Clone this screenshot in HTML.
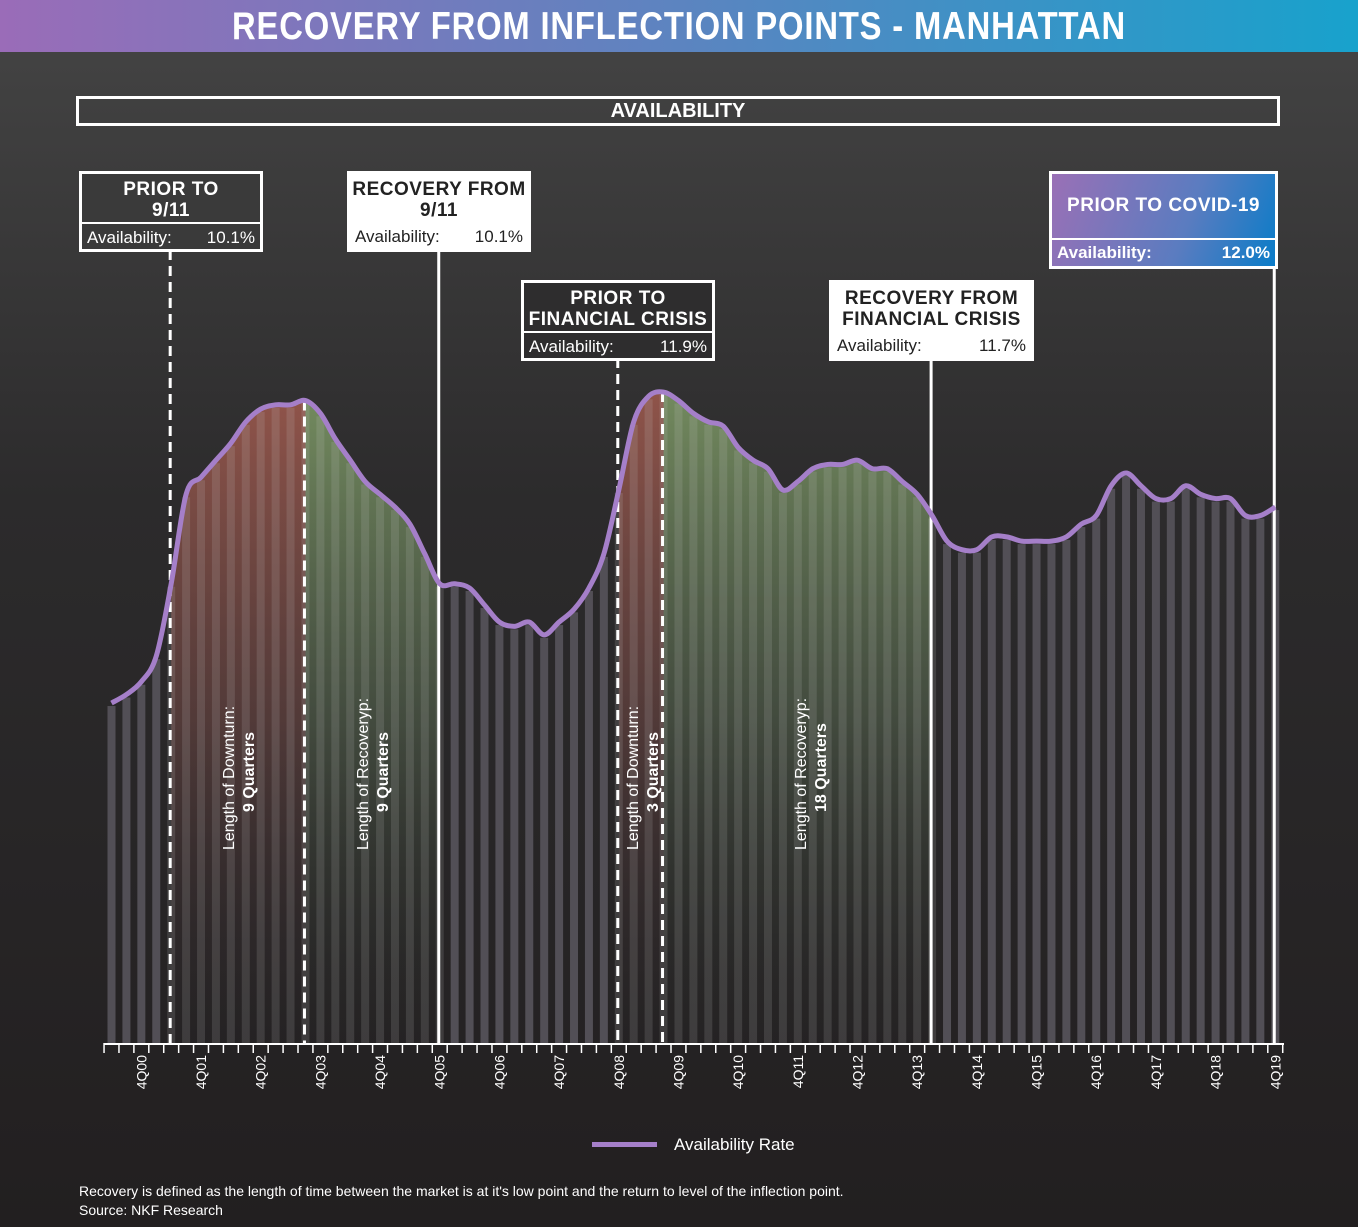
<!DOCTYPE html>
<html><head><meta charset="utf-8">
<style>
html,body{margin:0;padding:0;}
body{width:1358px;height:1227px;overflow:hidden;background:linear-gradient(#454545 0px,#2c2b2c 500px,#221f20 1227px);font-family:"Liberation Sans",sans-serif;position:relative;color:#fff;}
.hdr{position:absolute;left:0;top:0;width:1358px;height:52px;background:linear-gradient(90deg,#9a6cb8,#5c84c0 50%,#18a2cc);}
.hdr div{text-align:center;font-weight:bold;font-size:39px;line-height:54px;letter-spacing:1px;transform:scaleX(0.84);white-space:nowrap;}
.box{position:absolute;box-sizing:border-box;border:3px solid #fff;}
.ttl{font-weight:bold;text-align:center;font-size:19px;line-height:21px;white-space:nowrap;letter-spacing:0.5px;}
.av{display:flex;justify-content:space-between;font-size:17px;padding:0 5px;white-space:nowrap;}
svg{position:absolute;left:0;top:0;}
</style></head><body>
<div class="hdr"><div>RECOVERY FROM INFLECTION POINTS - MANHATTAN</div></div>
<svg id="chart" width="1358" height="1227"></svg>
<div class="box" style="left:76px;top:96px;width:1204px;height:30px;text-align:center;font-weight:bold;font-size:20px;line-height:24px;">AVAILABILITY</div>

<div class="box" style="left:79px;top:171px;width:184px;height:81px;background:#3a3a3a;">
 <div class="ttl" style="padding-top:5px;height:43px;border-bottom:2px solid #fff;">PRIOR TO<br>9/11</div>
 <div class="av" style="line-height:27px;"><span>Availability:</span><span>10.1%</span></div></div>
<div class="box" style="left:347px;top:171px;width:184px;height:81px;background:#fff;color:#222;">
 <div class="ttl" style="padding-top:5px;height:45px;">RECOVERY FROM<br>9/11</div>
 <div class="av" style="line-height:25px;"><span>Availability:</span><span>10.1%</span></div></div>
<div class="box" style="left:521px;top:280px;width:194px;height:81px;background:#2e2d2e;">
 <div class="ttl" style="padding-top:5px;height:43px;border-bottom:2px solid #fff;">PRIOR TO<br>FINANCIAL CRISIS</div>
 <div class="av" style="line-height:27px;"><span>Availability:</span><span>11.9%</span></div></div>
<div class="box" style="left:829px;top:280px;width:205px;height:81px;background:#fff;color:#222;">
 <div class="ttl" style="padding-top:5px;height:45px;">RECOVERY FROM<br>FINANCIAL CRISIS</div>
 <div class="av" style="line-height:25px;"><span>Availability:</span><span>11.7%</span></div></div>
<div class="box" style="left:1049px;top:171px;width:229px;height:98px;background:linear-gradient(110deg,#9a70b6,#5a7cc0 60%,#0a7cc8);">
 <div class="ttl" style="height:64px;line-height:64px;border-bottom:2px solid #fff;">PRIOR TO COVID-19</div>
 <div class="av" style="line-height:26px;font-weight:bold;"><span>Availability:</span><span>12.0%</span></div></div>

<div style="position:absolute;left:592px;top:1132px;height:26px;">
 <div style="position:absolute;left:0;top:10px;width:65px;height:5px;background:#a57fc9;"></div>
 <div style="position:absolute;left:82px;top:0;font-size:17px;white-space:nowrap;line-height:26px;">Availability Rate</div></div>
<div style="position:absolute;left:79px;top:1182px;font-size:14px;line-height:19px;white-space:nowrap;">Recovery is defined as the length of time between the market is at it's low point and the return to level of the inflection point.<br>Source: NKF Research</div>

<script>
const quarterLabels=["4Q00","4Q01","4Q02","4Q03","4Q04","4Q05","4Q06","4Q07","4Q08","4Q09","4Q10","4Q11","4Q12","4Q13","4Q14","4Q15","4Q16","4Q17","4Q18","4Q19"];
// availability %, quarterly from 2Q00 to 4Q19
const availability=[7.4,7.6,7.9,8.5,10.2,12.3,12.7,13.1,13.5,14.0,14.3,14.4,14.4,14.5,14.2,13.6,13.1,12.6,12.3,12.0,11.6,10.9,10.2,10.2,10.1,9.7,9.3,9.2,9.3,9.0,9.3,9.6,10.1,10.9,12.4,14.0,14.6,14.7,14.5,14.2,14.0,13.9,13.4,13.1,12.9,12.4,12.6,12.9,13.0,13.0,13.1,12.9,12.9,12.6,12.3,11.8,11.2,11.0,11.0,11.3,11.3,11.2,11.2,11.2,11.3,11.6,11.8,12.5,12.8,12.5,12.2,12.2,12.5,12.3,12.2,12.2,11.8,11.8,12.0];
// period index ranges [start,end,type]
const periods=[[4,13,"down"],[13,22,"rec"],[34,37,"down"],[37,55,"rec"]];
const markers=[[4,true,250],[13,true,0],[22,false,250],[34,true,358],[37,true,0],[55,false,358],[78,false,265]];
const NS="http://www.w3.org/2000/svg";
const svg=document.getElementById('chart');
const X0=111.5,STEP=14.92,BASE=1043;
const xs=i=>X0+i*STEP;
const ys=v=>588-(v-10.1)*42.6;
function mk(t,a){const e=document.createElementNS(NS,t);for(const k in a)e.setAttribute(k,a[k]);svg.appendChild(e);return e;}
const defs=mk('defs',{});
defs.innerHTML='<linearGradient id="gd" x1="0" y1="0" x2="0" y2="1"><stop offset="0" stop-color="#a05a4e" stop-opacity="0.85"/><stop offset="0.5" stop-color="#7a4c48" stop-opacity="0.5"/><stop offset="1" stop-color="#3a3236" stop-opacity="0"/></linearGradient><linearGradient id="gr" x1="0" y1="0" x2="0" y2="1"><stop offset="0" stop-color="#7e9a66" stop-opacity="0.85"/><stop offset="0.5" stop-color="#5c6e54" stop-opacity="0.5"/><stop offset="1" stop-color="#343a34" stop-opacity="0"/></linearGradient>';
function curvePts(){return availability.map((v,i)=>[xs(i),ys(v)]);}
function pathD(p,a,b){let d=`M${p[a][0]},${p[a][1]}`;for(let i=a;i<b;i++){const p0=p[Math.max(i-1,0)],p1=p[i],p2=p[i+1],p3=p[Math.min(i+2,p.length-1)];d+=`C${p1[0]+(p2[0]-p0[0])/6},${p1[1]+(p2[1]-p0[1])/6} ${p2[0]-(p3[0]-p1[0])/6},${p2[1]-(p3[1]-p1[1])/6} ${p2[0]},${p2[1]}`;}return d;}
const pts=curvePts();
periods.forEach(([a,b,t])=>{
 const r=mk('path',{d:pathD(pts,a,b)+`L${xs(b)},${BASE}L${xs(a)},${BASE}Z`,fill:t=="down"?"url(#gd)":"url(#gr)"});
 
 
});
availability.forEach((v,i)=>{
 let inR=periods.some(([a,b])=>i>=a&&i<=b);
 const y=ys(v)+3;
 const b=mk('rect',{x:xs(i)-4,y:y,width:8,height:BASE-y,fill:inR?"rgba(200,200,200,0.16)":"#524f56"});
 
 
});
markers.forEach(([i,dash,top])=>{
 const x=xs(i)-1;
 const y1=top||ys(availability[i]);
 const l=mk('line',{x1:x,x2:x,y1:y1,y2:BASE,stroke:"#fff","stroke-width":3});
 if(dash)l.setAttribute('stroke-dasharray','10 6');
 
 
});
const ln=mk('path',{d:pathD(pts,0,pts.length-1),fill:"none",stroke:"#a57fc9","stroke-width":5,"stroke-linejoin":"round"});


const ax=mk('line',{x1:104,x2:1284,y1:BASE+1,y2:BASE+1,stroke:"#fff","stroke-width":2});


for(let i=0;i<=availability.length;i++){const x=xs(i)-STEP/2;const t=mk('line',{x1:x,x2:x,y1:BASE,y2:BASE+10,stroke:"#fff","stroke-width":1.5});}
quarterLabels.forEach((s,k)=>{
 const x=xs(2+4*k)+5;
 const t=mk('text',{x:0,y:0,transform:`translate(${x},${BASE+12}) rotate(-90)`,"text-anchor":"end","font-size":14,fill:"#fff","font-family":"Liberation Sans, sans-serif"});
 t.textContent=s;
 
 
});
const plabels=[[234,"Length of Downturn:","9 Quarters"],[368,"Length of Recoveryp:","9 Quarters"],[638,"Length of Downturn:","3 Quarters"],[806,"Length of Recoveryp:","18 Quarters"]];
plabels.forEach(([x,a,b])=>{
 const t=mk('text',{transform:`translate(${x},850) rotate(-90)`,"font-size":16,fill:"#fff","font-family":"Liberation Sans, sans-serif"});
 t.innerHTML=`<tspan x="0" y="0">${a}</tspan><tspan x="38" y="20" font-weight="bold">${b}</tspan>`;
 
 
});
</script>
</body></html>
